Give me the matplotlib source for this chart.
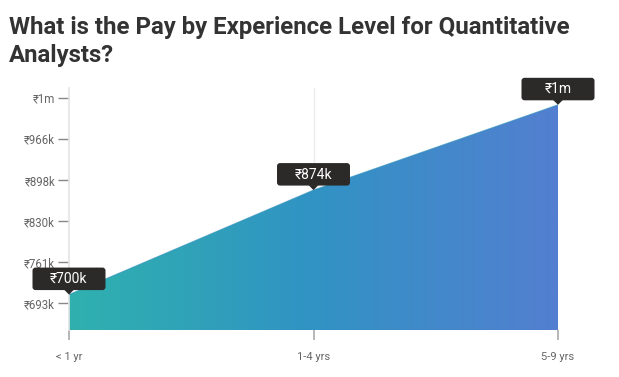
import numpy as np
import matplotlib
matplotlib.use("Agg")
import matplotlib.pyplot as plt
from matplotlib.colors import LinearSegmentedColormap
from matplotlib.patches import FancyBboxPatch, Polygon
from matplotlib.transforms import ScaledTranslation

plt.rcParams['font.family'] = ['Roboto', 'DejaVu Sans']

# --- data ---
levels = ["< 1 yr", "1-4 yrs", "5-9 yrs"]
pay_k = [700, 874, 1016]
pay_labels = ["₹700k", "₹874k", "₹1m"]
ytick_values = [685.7, 754.0, 822.3, 890.7, 959.0, 1027.3]
ytick_labels = ["₹693k", "₹761k", "₹830k", "₹898k", "₹966k", "₹1m"]

W, H = 619, 377
fig = plt.figure(figsize=(W / 100, H / 100), dpi=100)
ax = fig.add_axes([69 / W, 1 - 330 / H, (558 - 69) / W, (330 - 88) / H])

x = np.arange(len(levels))
ymin, ymax = 641, 1044
ax.set_xlim(0, len(levels) - 1)
ax.set_ylim(ymin, ymax)

# gradient-filled area
cmap = LinearSegmentedColormap.from_list(
    "pay", ["#2fb1ae", "#3193c4", "#537fd0"])
grad = np.linspace(0, 1, 256).reshape(1, -1)
im = ax.imshow(grad, cmap=cmap, aspect="auto",
               extent=[0, len(levels) - 1, ymin, ymax], zorder=2)
clip = Polygon(np.column_stack([np.r_[x, x[::-1]], np.r_[pay_k, [ymin] * len(x)]]),
               closed=True, transform=ax.transData)
im.set_clip_path(clip)
ax.plot(x, pay_k, color="#2b8fb9", lw=0.8, zorder=3, alpha=0.6)

# axes styling
for s in ["top", "right", "bottom"]:
    ax.spines[s].set_visible(False)
ax.spines["left"].set_color("#e4e4e4")
ax.spines["left"].set_linewidth(1.2)
ax.set_xticks(x)
ax.set_xticklabels(levels, fontsize=8, color="#666666")
ax.set_yticks(ytick_values)
ax.set_yticklabels(ytick_labels, fontsize=8.3, color="#666666")
ax.tick_params(axis="x", length=7, width=1.2, color="#aaaaaa", pad=9)
ax.tick_params(axis="y", length=8, width=1.0, color="#888888", pad=2)
ax.axvline(1, color="#eeeeee", lw=1, zorder=0)

# tooltips
for xi, yi, lab in zip(x, pay_k, pay_labels):
    tr = fig.dpi_scale_trans + ScaledTranslation(xi, yi, ax.transData)
    box = FancyBboxPatch((-0.365, 0.045), 0.73, 0.225,
                         boxstyle="round,pad=0,rounding_size=0.03",
                         fc="#2c2929", ec="none", transform=tr,
                         clip_on=False, zorder=5)
    ax.add_patch(box)
    tri = Polygon([(-0.05, 0.05), (0.05, 0.05), (0, 0.0)], closed=True,
                  fc="#2c2929", ec="none", transform=tr, clip_on=False, zorder=5)
    ax.add_patch(tri)
    ax.text(0, 0.157, lab, transform=tr, ha="center", va="center",
            color="white", fontsize=10, zorder=6)

fig.text(9 / W, 1 - 16 / H,
         "What is the Pay by Experience Level for Quantitative\nAnalysts?",
         ha="left", va="top", fontsize=17.3, fontweight="bold",
         color="#333333", linespacing=1.28)

fig.savefig("out.png", dpi=100)
